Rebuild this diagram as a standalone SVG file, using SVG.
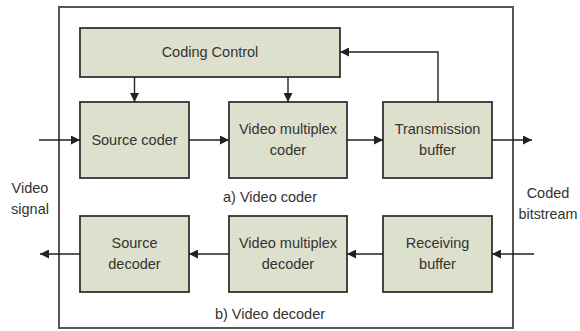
<svg xmlns="http://www.w3.org/2000/svg" width="580" height="331" viewBox="0 0 580 331">
  <style>
    .blk { fill: #dde0cc; stroke: #333; stroke-width: 1.8; }
    .frame { fill: none; stroke: #555; stroke-width: 2; }
    .wire { fill: none; stroke: #222; stroke-width: 1.4; marker-end: url(#ah); }
    text { font-family: "Liberation Sans", Arial, sans-serif; font-size: 14.5px; fill: #333; text-anchor: middle; }
  </style>
  <defs>
    <marker id="ah" viewBox="0 0 10 10" refX="10" refY="5" markerWidth="10" markerHeight="9" markerUnits="userSpaceOnUse" orient="auto">
      <path d="M0,0 L10,5 L0,10 z" fill="#222"/>
    </marker>
  </defs>

  <rect class="frame" x="59" y="7" width="454" height="321"/>

  <g id="coding-control">
    <rect class="blk" x="80" y="28" width="260" height="49"/>
    <text x="210" y="57">Coding Control</text>
  </g>
  <g id="source-coder">
    <rect class="blk" x="80" y="102" width="109" height="76"/>
    <text x="134.5" y="145">Source coder</text>
  </g>
  <g id="video-multiplex-coder">
    <rect class="blk" x="229" y="102" width="118" height="76"/>
    <text x="288" y="134">Video multiplex</text>
    <text x="288" y="155">coder</text>
  </g>
  <g id="transmission-buffer">
    <rect class="blk" x="383" y="102" width="109" height="76"/>
    <text x="437.5" y="134">Transmission</text>
    <text x="437.5" y="155">buffer</text>
  </g>
  <g id="source-decoder">
    <rect class="blk" x="80" y="216" width="109" height="76"/>
    <text x="134.5" y="248">Source</text>
    <text x="134.5" y="269">decoder</text>
  </g>
  <g id="video-multiplex-decoder">
    <rect class="blk" x="229" y="216" width="118" height="76"/>
    <text x="288" y="248">Video multiplex</text>
    <text x="288" y="269">decoder</text>
  </g>
  <g id="receiving-buffer">
    <rect class="blk" x="383" y="216" width="109" height="76"/>
    <text x="437.5" y="248">Receiving</text>
    <text x="437.5" y="269">buffer</text>
  </g>

  <g id="labels">
    <text x="270" y="202">a) Video coder</text>
    <text x="270" y="319">b) Video decoder</text>
    <text x="30" y="193">Video</text>
    <text x="30" y="214">signal</text>
    <text x="548" y="198">Coded</text>
    <text x="548" y="219" textLength="59" lengthAdjust="spacingAndGlyphs">bitstream</text>
  </g>

  <g id="connectors">
    <path class="wire" d="M134.5,77 V102"/>
    <path class="wire" d="M288,77 V102"/>
    <path class="wire" d="M438,102 V52 H340"/>
    <path class="wire" d="M39,140 H80"/>
    <path class="wire" d="M189,140 H229"/>
    <path class="wire" d="M347,140 H383"/>
    <path class="wire" d="M492,140 H532"/>
    <path class="wire" d="M534,254 H492"/>
    <path class="wire" d="M383,254 H347"/>
    <path class="wire" d="M229,254 H189"/>
    <path class="wire" d="M80,254 H40"/>
  </g>
</svg>
